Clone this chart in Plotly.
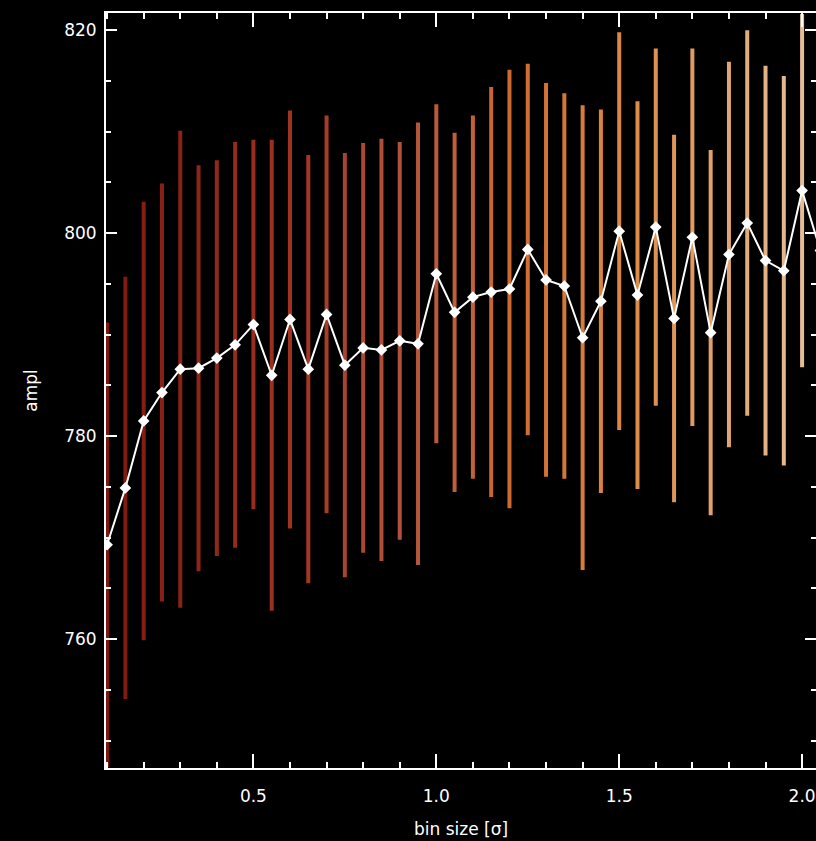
import plotly.graph_objects as go

# ---- data ----
bin_size = [0.10, 0.15, 0.20, 0.25, 0.30, 0.35, 0.40, 0.45, 0.50, 0.55,
            0.60, 0.65, 0.70, 0.75, 0.80, 0.85, 0.90, 0.95, 1.00, 1.05,
            1.10, 1.15, 1.20, 1.25, 1.30, 1.35, 1.40, 1.45, 1.50, 1.55,
            1.60, 1.65, 1.70, 1.75, 1.80, 1.85, 1.90, 1.95, 2.00, 2.05]
ampl = [769.3, 774.9, 781.5, 784.3, 786.6, 786.7, 787.7, 789.0, 791.0, 786.0,
        791.5, 786.6, 792.0, 787.0, 788.7, 788.5, 789.4, 789.1, 796.0, 792.2,
        793.7, 794.2, 794.5, 798.4, 795.4, 794.8, 789.7, 793.3, 800.2, 793.9,
        800.6, 791.6, 799.6, 790.2, 797.9, 801.0, 797.3, 796.3, 804.2, 798.3]
ampl_err = [21.9, 20.8, 21.6, 20.6, 23.5, 20.0, 19.5, 20.0, 18.2, 23.2,
            20.6, 21.1, 19.6, 20.9, 20.2, 20.8, 19.6, 21.8, 16.7, 17.7,
            17.9, 20.2, 21.6, 18.3, 19.4, 19.0, 22.9, 18.9, 19.6, 19.1,
            17.6, 18.1, 18.6, 18.0, 19.0, 19.0, 19.2, 19.2, 17.4, 18.0]
x_ticks = [0.5, 1.0, 1.5, 2.0]
x_ticklabels = ["0.5", "1.0", "1.5", "2.0"]
y_ticks = [760, 780, 800, 820]
y_ticklabels = ["760", "780", "800", "820"]

# ---- colour ramp for the error bars (style) ----
stops = [(0.10, (125, 24, 16)), (0.60, (160, 50, 32)), (0.90, (178, 82, 62)),
         (1.20, (205, 105, 50)), (1.50, (220, 135, 65)), (1.80, (225, 165, 115)),
         (2.05, (232, 195, 160))]


def ramp(v):
    for (a, ca), (b, cb) in zip(stops[:-1], stops[1:]):
        if v <= b:
            t = 0 if b == a else max(0.0, (v - a) / (b - a))
            c = [round(ca[i] + (cb[i] - ca[i]) * t) for i in range(3)]
            return "rgb(%d,%d,%d)" % tuple(c)
    return "rgb(%d,%d,%d)" % stops[-1][1]


fig = go.Figure()

for xv, yv, ev in zip(bin_size, ampl, ampl_err):
    col = ramp(xv)
    fig.add_trace(go.Scatter(
        x=[xv], y=[yv], mode="markers",
        marker=dict(size=1, color="rgba(0,0,0,0)"),
        error_y=dict(type="data", array=[ev], visible=True,
                     color=col, thickness=4, width=0),
        showlegend=False, hoverinfo="skip"))

fig.add_trace(go.Scatter(
    x=bin_size, y=ampl, mode="lines+markers",
    line=dict(color="white", width=2),
    marker=dict(symbol="diamond", size=9, color="white"),
    showlegend=False))

# invisible trace to carry the right-hand tick axis
fig.add_trace(go.Scatter(
    x=bin_size, y=ampl, yaxis="y2", mode="markers",
    marker=dict(size=1, color="rgba(0,0,0,0)"),
    showlegend=False, hoverinfo="skip"))

y_range = [747.3, 821.7]
font = dict(family="DejaVu Sans", size=17, color="white")

fig.update_layout(
    width=816, height=841,
    paper_bgcolor="black", plot_bgcolor="black",
    margin=dict(l=106, r=0, t=13, b=73),
    font=font,
    xaxis=dict(
        range=[0.097, 2.038],
        tickmode="array", tickvals=x_ticks, ticktext=x_ticklabels,
        ticks="inside", ticklen=14, tickwidth=2, tickcolor="white",
        minor=dict(dtick=0.1, ticks="inside", ticklen=6, tickwidth=2, tickcolor="white"),
        showline=True, linecolor="white", linewidth=2, mirror="ticks",
        showgrid=False, zeroline=False,
        ticklabelstandoff=12,
        tickfont=font,
        title=dict(text="bin size [σ]", font=font, standoff=18),
        automargin=False,
    ),
    yaxis=dict(
        range=y_range,
        tickmode="array", tickvals=y_ticks, ticktext=y_ticklabels,
        ticks="inside", ticklen=11, tickwidth=2, tickcolor="white",
        minor=dict(dtick=5, ticks="inside", ticklen=5, tickwidth=2, tickcolor="white"),
        showline=True, linecolor="white", linewidth=2, mirror=False,
        showgrid=False, zeroline=False,
        ticklabelstandoff=4,
        tickfont=font,
        title=dict(text="ampl", font=font, standoff=22),
        automargin=False,
    ),
    yaxis2=dict(
        range=y_range, overlaying="y", side="right",
        tickmode="array", tickvals=y_ticks, showticklabels=False,
        ticks="inside", ticklen=11, tickwidth=2, tickcolor="white",
        minor=dict(dtick=5, ticks="inside", ticklen=5, tickwidth=2, tickcolor="white"),
        showline=False, showgrid=False, zeroline=False,
    ),
)

fig.write_html("out.html")
